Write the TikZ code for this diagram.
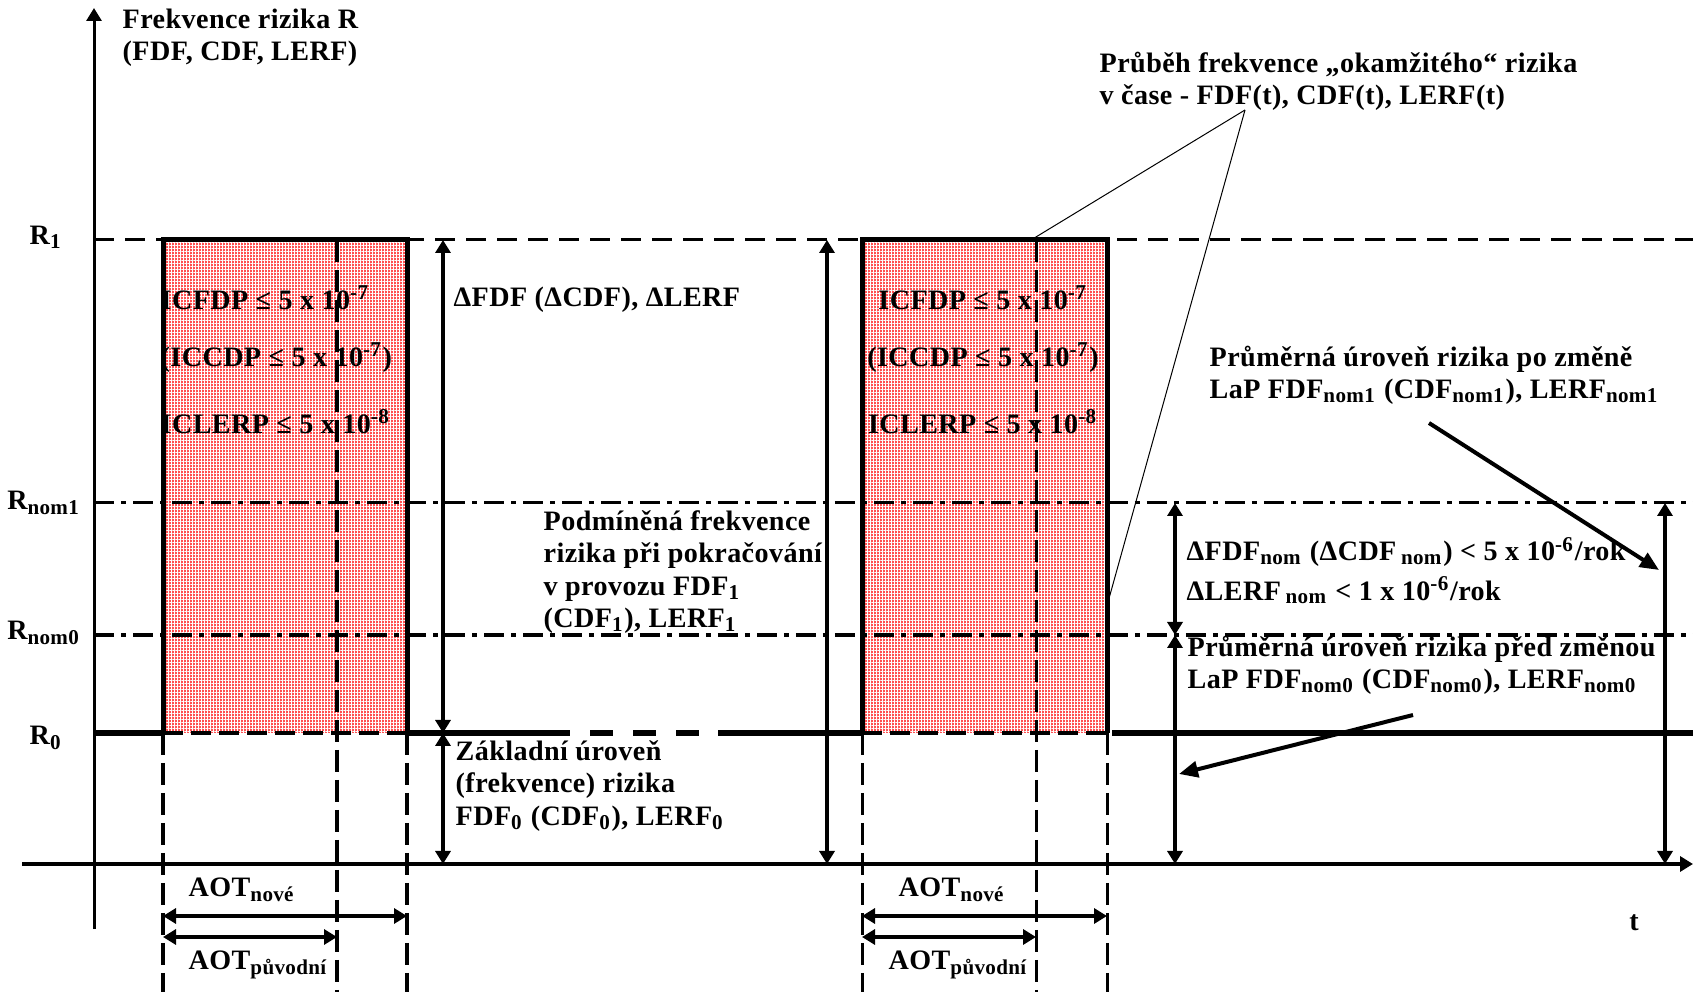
\documentclass[tikz,border=0pt]{standalone}
\usepackage{fontspec}
\setmainfont{Liberation Serif}[LetterSpace=1.5]
\usetikzlibrary{arrows.meta,patterns.meta}
\definecolor{riskRed}{RGB}{255,80,80}
\newcommand{\figfont}{\fontsize{8}{9.2}\selectfont\bfseries}

\begin{document}
\begin{tikzpicture}[x=0.1mm, y=0.1mm,
  >={Triangle[width=1.5mm,length=1.3mm]},
  txt/.style={font=\figfont, inner sep=0pt, align=left, anchor=west},
  lvllabel/.style={font=\figfont, inner sep=0pt},
  riskbox/.style={fill=riskRed,
    postaction={pattern={Lines[angle=0,distance=0.3mm,line width=0.07mm]}, pattern color=white},
    postaction={pattern={Lines[angle=90,distance=0.3mm,line width=0.07mm]}, pattern color=white}},
  boxedge/.style={line width=0.5mm, line join=miter},
  boxbase/.style={line width=0.45mm, dash pattern=on 2mm off 0.8mm},
  boxmid/.style={line width=0.45mm, dash pattern=on 2.2mm off 0.8mm},
  rOneLine/.style={line width=0.3mm, dash pattern=on 2mm off 1.1mm},
  nomLine/.style={line width=0.3mm, dash pattern=on 2mm off 0.7mm on 0.5mm off 0.7mm},
  zeroline/.style={line width=0.55mm},
  axisline/.style={line width=0.3mm, ->},
  dimarrow/.style={line width=0.4mm, <->},
  pointer/.style={line width=0.4mm, -{Triangle[width=1.6mm,length=1.9mm]}},
  leader/.style={line width=0.1mm},
]

%% ── canvas: 1 unit = 0.1 mm, origin bottom left ─────────
\useasboundingbox (0,0) rectangle (1693,992);

%% ── levels (y) and risk axis (x) ────────────────────────
\def\yT{128}   % time axis
\def\yRz{259}  % R0
\def\yNz{357}  % Rnom0
\def\yNo{489}  % Rnom1
\def\yRo{752}  % R1
\def\xA{94}    % risk axis

\coordinate (floor) at (0,0);
\coordinate (tL) at (22,\yT);   \coordinate (tR) at (1693,\yT);
\coordinate (yB) at (\xA,63);   \coordinate (yT) at (\xA,984);
\coordinate (lR1) at (\xA,\yRo); \coordinate (eR1) at (1693,\yRo);
\coordinate (lN1) at (\xA,\yNo); \coordinate (eN1) at (1693,\yNo);
\coordinate (lN0) at (\xA,\yNz); \coordinate (eN0) at (1693,\yNz);
\coordinate (lR0) at (\xA,\yRz); \coordinate (eR0) at (1693,\yRz);

%% ── boxes: sw corner, ne corner, end of old AOT ─────────
\coordinate (b1sw) at (163,\yRz);  \coordinate (b1ne) at (407,\yRo);  \coordinate (b1m) at (337,\yRo);
\coordinate (b2sw) at (862,\yRz);  \coordinate (b2ne) at (1107,\yRo); \coordinate (b2m) at (1036,\yRo);

\path[riskbox] (b1sw) rectangle (b1ne);
\path[riskbox] (b2sw) rectangle (b2ne);

% limits written in the boxes
\node[txt] (c1a) at (160,694) {ICFDP ≤ 5 x 10\textsuperscript{-7}};
\node[txt] (c1b) at (160,634) {(ICCDP ≤ 5 x 10\textsuperscript{-7})};
\node[txt] (c1c) at (160,570) {ICLERP ≤ 5 x 10\textsuperscript{-8}};
\node[lvllabel] (c2a) at (983,694) {ICFDP ≤ 5 x 10\textsuperscript{-7}};
\node[lvllabel] (c2b) at (983,634) {(ICCDP ≤ 5 x 10\textsuperscript{-7})};
\node[lvllabel] (c2c) at (983,570) {ICLERP ≤ 5 x 10\textsuperscript{-8}};

%% ── level lines ─────────────────────────────────────────
\draw[rOneLine] (lR1) -- (eR1);
\draw[nomLine] (lN1) -- (eN1);
\draw[nomLine, line width=0.4mm] (lN0) -- (eN0);

%% ── box outlines + AOT limits down to the bottom ────────
\draw[boxedge] (b1sw) |- (b1ne) -- (b1ne |- b1sw);
\draw[boxbase] (b1sw) -- (b1ne |- b1sw);
\draw[boxmid] (b1m) -- (b1m |- floor);
\draw[boxmid] (b1sw) -- (b1sw |- floor);
\draw[boxmid] (b1ne |- b1sw) -- (b1ne |- floor);

\draw[boxedge] (b2sw) |- (b2ne) -- (b2ne |- b2sw);
\draw[boxbase] (b2sw) -- (b2ne |- b2sw);
\draw[boxmid, line width=0.3mm] (b2m) -- (b2m |- floor);
\draw[boxmid, line width=0.3mm] (b2sw) -- (b2sw |- floor);
\draw[boxmid, line width=0.3mm] (b2ne |- b2sw) -- (b2ne |- floor);

%% ── base level R0 ───────────────────────────────────────
\coordinate (g1) at (547,\yRz);  \coordinate (g2) at (700,\yRz);
\coordinate (g3) at (718,\yRz);  \coordinate (g4) at (1112,\yRz);
\draw[zeroline] (lR0) -- (b1sw);
\draw[zeroline] (b1ne |- b1sw) -- (g1);
\draw[zeroline, dash pattern=on 2.3mm off 2mm] (g1) -- (g2);
\draw[zeroline] (g3) -- (b2sw);
\draw[zeroline] (g4) -- (eR0);

%% ── axes ────────────────────────────────────────────────
\draw[axisline] (yB) -- (yT);
\draw[axisline, line width=0.35mm] (tL) -- (tR);

%% ── level differences ───────────────────────────────────
\coordinate (dA) at (443,\yT);  \coordinate (dB) at (827,\yT);
\coordinate (dC) at (1175,\yT); \coordinate (dD) at (1665,\yT);
\draw[dimarrow] (dA |- lR1) -- (dA |- lR0);
\draw[dimarrow] (dA |- lR0) -- (dA);
\draw[dimarrow] (dB |- lR1) -- (dB);
\draw[dimarrow] (dC |- lN1) -- (dC |- lN0);
\draw[dimarrow] (dC |- lN0) -- (dC);
\draw[dimarrow] (dD |- lN1) -- (dD);

%% ── AOT spans ───────────────────────────────────────────
\coordinate (aN) at (0,76); \coordinate (aP) at (0,55);
\draw[dimarrow] (b1sw |- aN) -- (b1ne |- aN);
\draw[dimarrow] (b1sw |- aP) -- (b1m |- aP);
\draw[dimarrow] (b2sw |- aN) -- (b2ne |- aN);
\draw[dimarrow] (b2sw |- aP) -- (b2m |- aP);

\node[txt] (aotN1) at (188,102) {AOT\textsubscript{nové}};
\node[txt] (aotP1) at (188,27)  {AOT\textsubscript{původní}};
\node[txt] (aotN2) at (898,102) {AOT\textsubscript{nové}};
\node[txt] (aotP2) at (888,27)  {AOT\textsubscript{původní}};

%% ── axis and level names ────────────────────────────────
\node[txt] (yname) at (122,954) {Frekvence rizika R\\(FDF, CDF, LERF)};
\node[lvllabel] (tname) at (1634,69) {t};
\node[lvllabel] (nR1) at (46,755) {R\textsubscript{1}};
\node[lvllabel] (nN1) at (44,489) {R\textsubscript{nom1}};
\node[lvllabel] (nN0) at (44,359) {R\textsubscript{nom0}};
\node[lvllabel] (nR0) at (46,254) {R\textsubscript{0}};

%% ── annotations ─────────────────────────────────────────
\node[txt] (dfd) at (453,692) {ΔFDF (ΔCDF), ΔLERF};
\node[txt] (podm) at (543,420)
  {Podmíněná frekvence\\rizika při pokračování\\v provozu FDF\textsubscript{1}\\(CDF\textsubscript{1}), LERF\textsubscript{1}};
\node[txt] (zakl) at (455,206)
  {Základní úroveň\\(frekvence) rizika\\FDF\textsubscript{0} (CDF\textsubscript{0}), LERF\textsubscript{0}};
\node[txt] (prub) at (1099,911)
  {Průběh frekvence „okamžitého“ rizika\\v čase - FDF(t), CDF(t), LERF(t)};
\node[txt] (pozm) at (1209,617)
  {Průměrná úroveň rizika po změně\\LaP FDF\textsubscript{nom1} (CDF\textsubscript{nom1}), LERF\textsubscript{nom1}};
\node[txt] (dnom) at (1186,440) {ΔFDF\textsubscript{nom} (ΔCDF\,\textsubscript{nom}) < 5 x 10\textsuperscript{-6}/rok};
\node[txt] (dlerf) at (1186,402) {ΔLERF\,\textsubscript{nom} < 1 x 10\textsuperscript{-6}/rok};
\node[txt] (predz) at (1187,327)
  {Průměrná úroveň rizika před změnou\\LaP FDF\textsubscript{nom0} (CDF\textsubscript{nom0}), LERF\textsubscript{nom0}};

%% ── leaders ─────────────────────────────────────────────
\coordinate (lp) at (1245,882);
\coordinate (b2top) at (1031,\yRo); \coordinate (b2side) at (1108,390);
\draw[leader] (lp) -- (b2top);
\draw[leader] (lp) -- (b2side);
\coordinate (pzS) at (1429,569); \coordinate (pzE) at (1659,422);
\coordinate (prS) at (1413,277); \coordinate (prE) at (1179,218);
\draw[pointer] (pzS) -- (pzE);
\draw[pointer] (prS) -- (prE);

\end{tikzpicture}
\end{document}
